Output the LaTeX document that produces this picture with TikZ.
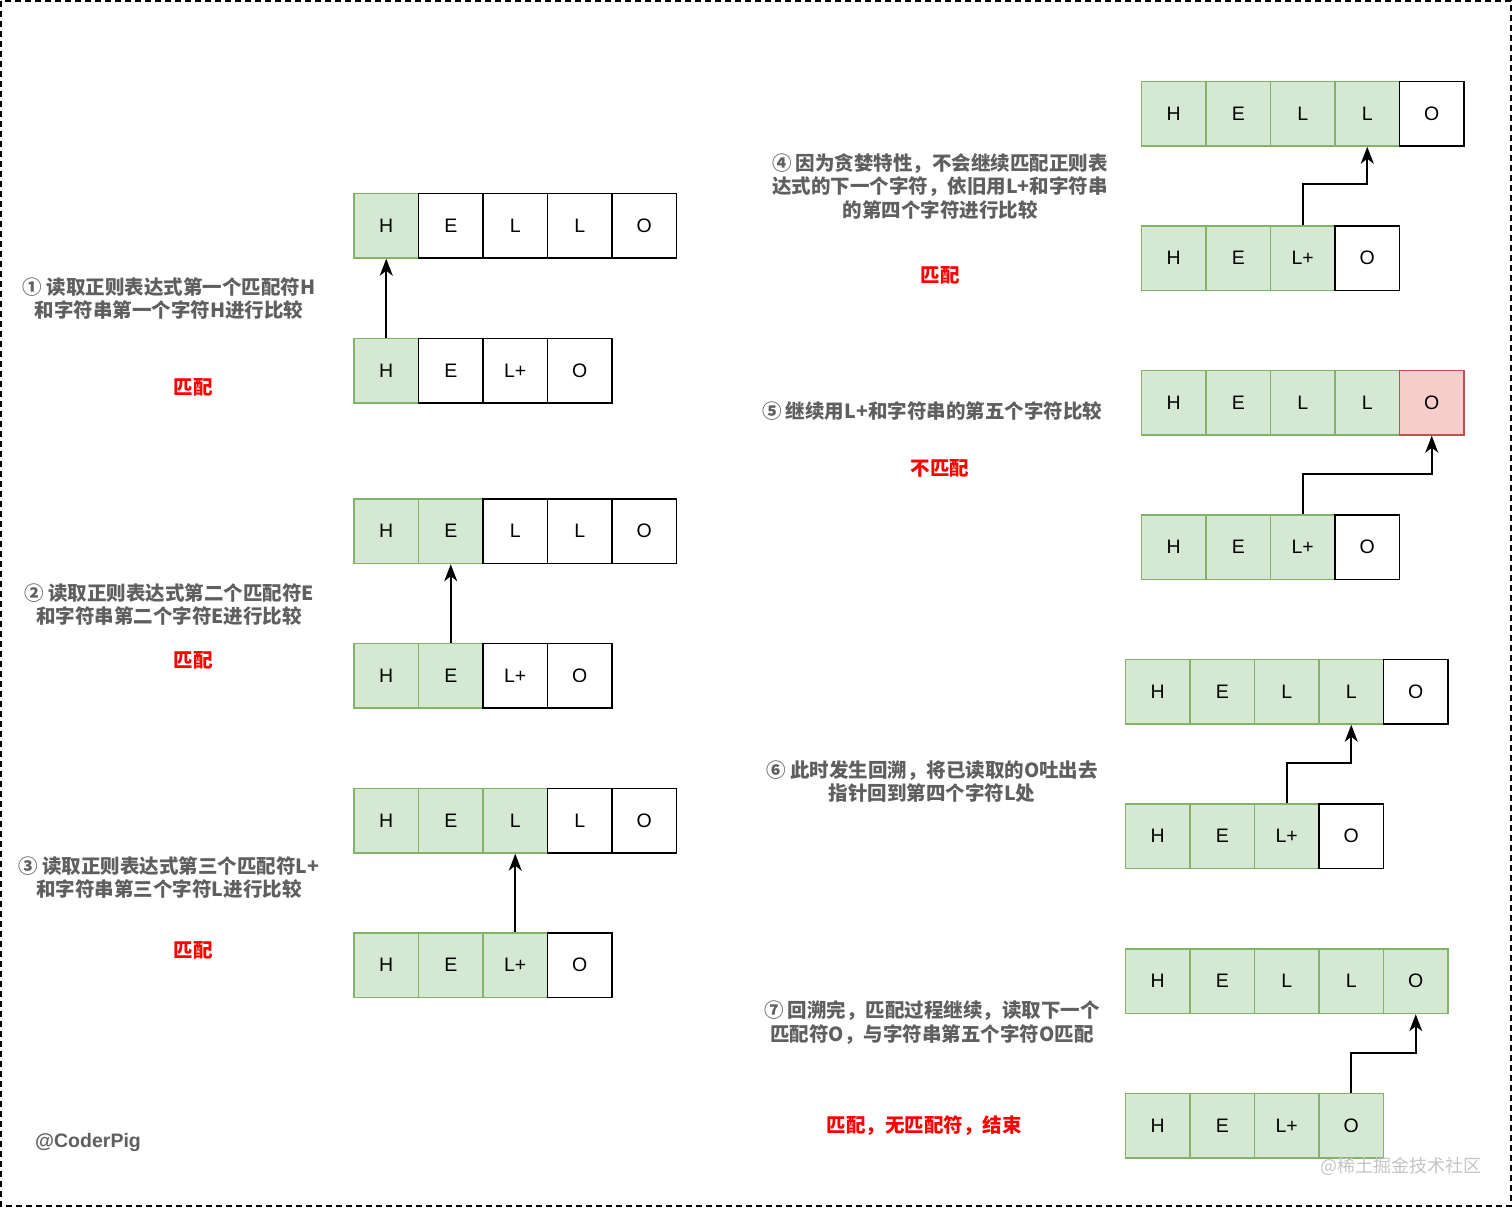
\documentclass[tikz,border=0pt]{standalone}
\usepackage{fontspec}
\setmainfont{Liberation Sans}
\newfontfamily\cjk{Noto Sans CJK SC}
\usetikzlibrary{arrows.meta}
\definecolor{gfill}{HTML}{D5E8D4}
\definecolor{gline}{HTML}{82B366}
\definecolor{rfill}{HTML}{F8CECC}
\definecolor{rline}{HTML}{B85450}
\definecolor{lbl}{HTML}{5F5F5F}
\definecolor{wm}{HTML}{C4C4C4}
\tikzset{
  cell/.style={minimum width=64.5pt,minimum height=64.5pt,inner sep=0pt,line width=1.5pt,font=\fontsize{19.5}{21}\selectfont},
  gcell/.style={fill=gfill,draw=gline},
  wcell/.style={fill=white,draw=black},
  rcell/.style={fill=rfill,draw=rline},
  arr/.style={line width=1.8pt,-{Stealth[length=17pt,width=13pt,inset=5pt]}},
  desc/.style={align=center,text=lbl,font=\cjk\bfseries\fontsize{19.5}{23.2}\selectfont,inner sep=0pt},
  res/.style={text=red,font=\cjk\bfseries\fontsize{19.5}{23.2}\selectfont,inner sep=0pt}
}
\newcommand\cellrow[4]{%
  \foreach \t/\s [count=\i] in {#4} {
    \node[cell,\s] (#1\i) at ({#2+32.25+(\i-1)*64.5},{#3+32.25}) {\t};
  }}
\begin{document}
\begin{tikzpicture}[x=1pt,y=-1pt]
\useasboundingbox (0,0) rectangle (1512,1207);
\draw[line width=2pt,dash pattern=on 6pt off 4pt] (1,1) rectangle (1511,1206);

% step 1
\cellrow{sat}{354}{193.5}{H/gcell,E/wcell,L/wcell,L/wcell,O/wcell}
\cellrow{sab}{354}{338.5}{H/gcell,E/wcell,L+/wcell,O/wcell}
\draw[arr] (sab1.north) -- (sat1.south);
\node[desc] (d1) at (169,298.5) {① 读取正则表达式第一个匹配符H\\和字符串第一个字符H进行比较};
\node[res] (r1) at (193,387) {匹配};

% step 2
\cellrow{sbt}{354}{499}{H/gcell,E/gcell,L/wcell,L/wcell,O/wcell}
\cellrow{sbb}{354}{643.5}{H/gcell,E/gcell,L+/wcell,O/wcell}
\draw[arr] (sbb2.north) -- (sbt2.south);
\node[desc] (d2) at (169,604.5) {② 读取正则表达式第二个匹配符E\\和字符串第二个字符E进行比较};
\node[res] (r2) at (193,660) {匹配};

% step 3
\cellrow{sct}{354}{788.5}{H/gcell,E/gcell,L/gcell,L/wcell,O/wcell}
\cellrow{scb}{354}{933}{H/gcell,E/gcell,L+/gcell,O/wcell}
\draw[arr] (scb3.north) -- (sct3.south);
\node[desc] (d3) at (169,877.5) {③ 读取正则表达式第三个匹配符L+\\和字符串第三个字符L进行比较};
\node[res] (r3) at (193,950) {匹配};

% step 4
\cellrow{sdt}{1141.5}{81.5}{H/gcell,E/gcell,L/gcell,L/gcell,O/wcell}
\cellrow{sdb}{1141.5}{226}{H/gcell,E/gcell,L+/gcell,O/wcell}
\draw[arr] (sdb3.north) -- ++(0,-41) -| (sdt4.south);
\node[desc] (d4) at (940,186.5) {④ 因为贪婪特性，不会继续匹配正则表\\达式的下一个字符，依旧用L+和字符串\\的第四个字符进行比较};
\node[res] (r4) at (940,275) {匹配};

% step 5
\cellrow{set}{1141.5}{370.5}{H/gcell,E/gcell,L/gcell,L/gcell,O/rcell}
\cellrow{seb}{1141.5}{515}{H/gcell,E/gcell,L+/gcell,O/wcell}
\draw[arr] (seb3.north) -- ++(0,-40) -| (set5.south);
\node[desc] (d5) at (932,411) {⑤ 继续用L+和字符串的第五个字符比较};
\node[res] (r5) at (940,468) {不匹配};

% step 6
\cellrow{sft}{1125.5}{659.5}{H/gcell,E/gcell,L/gcell,L/gcell,O/wcell}
\cellrow{sfb}{1125.5}{804}{H/gcell,E/gcell,L+/gcell,O/wcell}
\draw[arr] (sfb3.north) -- ++(0,-40) -| (sft4.south);
\node[desc] (d6) at (932,781.5) {⑥ 此时发生回溯，将已读取的O吐出去\\指针回到第四个字符L处};

% step 7
\cellrow{sgt}{1125.5}{949}{H/gcell,E/gcell,L/gcell,L/gcell,O/gcell}
\cellrow{sgb}{1125.5}{1093.5}{H/gcell,E/gcell,L+/gcell,O/gcell}
\draw[arr] (sgb4.north) -- ++(0,-40) -| (sgt5.south);
\node[desc] (d7) at (932,1022.5) {⑦ 回溯完，匹配过程继续，读取下一个\\匹配符O，与字符串第五个字符O匹配};
\node[res] (r7) at (924,1126) {匹配，无匹配符，结束};

\node[text=lbl,font=\bfseries\fontsize{19.5}{22}\selectfont,inner sep=0pt] (author) at (88,1142) {@CoderPig};
\node[text=wm,font=\cjk\fontsize{18}{20}\selectfont,inner sep=0pt] (mark) at (1401,1166) {@稀土掘金技术社区};
\end{tikzpicture}
\end{document}
